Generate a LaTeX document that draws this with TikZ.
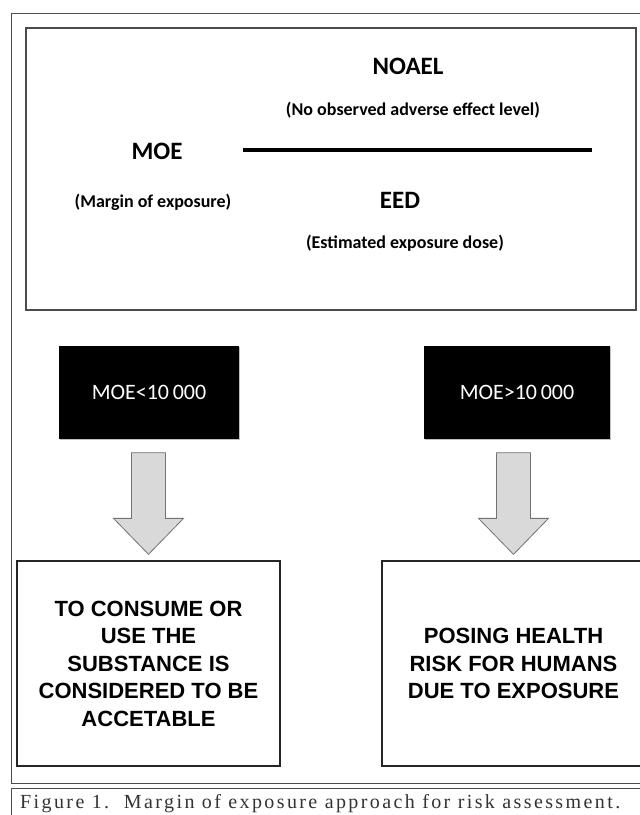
\documentclass[tikz,border=0pt]{standalone}
\usepackage{fontspec}
\setmainfont{Liberation Serif}
\newfontfamily\calibri{Carlito}
\newfontfamily\arial{Liberation Sans}
\usetikzlibrary{calc,shadows}

\tikzset{
  frame/.style={draw=black!70, line width=1pt},
  bigword/.style={font=\calibri\bfseries\fontsize{25}{30}\selectfont},
  smallword/.style={font=\calibri\bfseries\fontsize{18}{21}\selectfont},
  limitbox/.style={fill=black, text=white, minimum width=180pt, minimum height=93pt,
    font=\calibri\fontsize{22}{26}\selectfont,
    drop shadow={shadow xshift=0.6pt, shadow yshift=-1.6pt, fill=black!25, opacity=1}},
  resultbox/.style={draw=black!85, line width=1.3pt, fill=white, align=center,
    minimum width=263pt, minimum height=205pt,
    font=\arial\bfseries\fontsize{22}{27.5}\selectfont,
    drop shadow={shadow xshift=-1.4pt, shadow yshift=-1.4pt, fill=black!45, opacity=1}},
  blockarrow/.style={draw=black!55, fill=black!15, line width=0.8pt, line join=miter,
    to path={let \p1=(\tikztostart), \p2=(\tikztotarget) in
      (\x2-17pt,\y1) -- (\x2+17pt,\y1) -- (\x2+17pt,\y2+36pt) -- (\x2+35pt,\y2+36pt)
      -- (\x2,\y2) -- (\x2-35pt,\y2+36pt) -- (\x2-17pt,\y2+36pt) -- cycle}}
}

\begin{document}
\begin{tikzpicture}[x=1pt,y=-1pt]
  \useasboundingbox (0,0) rectangle (640,815);
  \fill[white] (0,0) rectangle (640,815);
  % frames of the figure and its caption
  \draw[frame] (11,13) rectangle (660,783);
  \draw[frame] (11,788) rectangle (660,840);
  % the ratio
  \draw[frame, line width=1.5pt] (26,28) rectangle (636,310);
  \node[bigword] (noael) at (408,66) {NOAEL};
  \node[smallword] (noaelsub) at (413,110) {(No observed adverse effect level)};
  \node[bigword] (moe) at (157,151) {MOE};
  \node[smallword] (moesub) at (153,202) {(Margin of exposure)};
  \node[bigword] (eed) at (400,200) {EED};
  \node[smallword] (eedsub) at (405,243) {(Estimated exposure dose)};
  \draw[line width=4pt] (243,150) -- (592,150);
  % the two outcomes
  \node[limitbox] (lowmoe) at (149,392) {MOE<10\,000};
  \node[limitbox, minimum width=186pt] (highmoe) at (517,392) {MOE>10\,000};
  \node[resultbox] (lowres) at (148.5,663.5) {TO CONSUME OR\\USE THE\\SUBSTANCE IS\\CONSIDERED TO BE\\ACCETABLE};
  \node[resultbox] (highres) at (513.5,663.5) {POSING HEALTH\\RISK FOR HUMANS\\DUE TO EXPOSURE};
  \draw[blockarrow] ($(lowmoe.south)+(0,14)$) to ($(lowres.north)+(0,-6)$);
  \draw[blockarrow] ($(highmoe.south)+(0,14)$) to ($(highres.north)+(0,-6)$);
  % caption
  \node[anchor=base west, inner sep=0pt, text=black!80,
    font=\fontsize{20}{23}\selectfont\addfontfeature{LetterSpace=12}] (caption) at (20,808)
    {Figure 1.\ \ Margin of exposure approach for risk assessment.};
\end{tikzpicture}
\end{document}
